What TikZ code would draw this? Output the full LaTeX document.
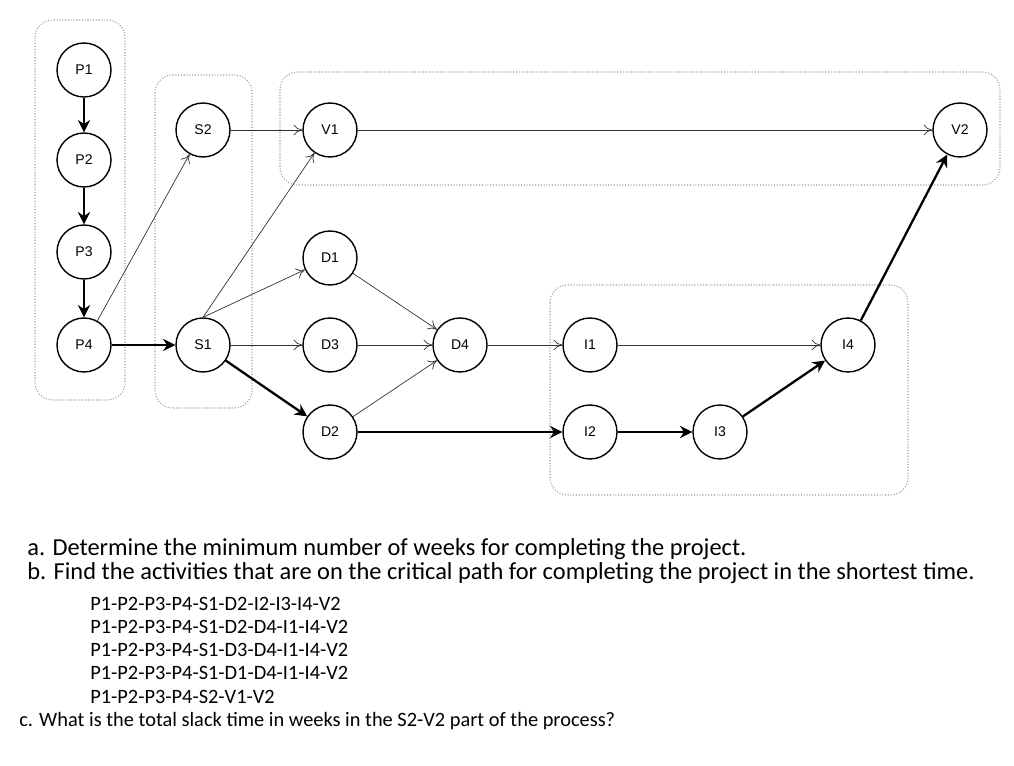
\documentclass[tikz,border=0pt]{standalone}
\usepackage{fontspec}
\setmainfont{Carlito}
\newfontfamily\nodefont{Liberation Sans}
\usetikzlibrary{arrows.meta}
\definecolor{GroupGray}{rgb}{0.6,0.6,0.6}

\begin{document}
\begin{tikzpicture}[x=0.02cm,y=-0.02cm,
    act/.style={draw,circle,minimum size=1.08cm,inner sep=0pt,font=\nodefont\fontsize{8}{9}\selectfont,line width=0.8pt},
    thin/.style={-{To[length=5pt,width=6pt]},line width=0.4pt,gray!40!black},
    crit/.style={-{Stealth[length=7pt,width=7pt]},line width=1.3pt},
    group/.style={draw=GroupGray,densely dotted,rounded corners=10pt,line width=0.6pt},
    txt/.style={anchor=west,font=\fontsize{11.6}{13}\selectfont,inner sep=0pt},
    bigtxt/.style={txt,font=\fontsize{13.9}{15}\selectfont}]
    %%Background
    \useasboundingbox (0,0) rectangle (1014,766);
    %%Groups
    \draw[group] (35,20) rectangle (125,400);
    \draw[group] (155,75) rectangle (252,408);
    \draw[group] (280,72) rectangle (1000,185);
    \draw[group] (550,285) rectangle (908,495);
    %%Activities
    \node[act] (p1) at (84,70) {P1};
    \node[act] (p2) at (84,160) {P2};
    \node[act] (p3) at (84,252) {P3};
    \node[act] (p4) at (84,345) {P4};
    \node[act] (s2) at (203,130) {S2};
    \node[act] (s1) at (203,345) {S1};
    \node[act] (v1) at (330,130) {V1};
    \node[act] (d1) at (330,258) {D1};
    \node[act] (d3) at (330,345) {D3};
    \node[act] (d2) at (330,432) {D2};
    \node[act] (d4) at (460,345) {D4};
    \node[act] (i1) at (590,345) {I1};
    \node[act] (i2) at (590,432) {I2};
    \node[act] (i3) at (720,432) {I3};
    \node[act] (i4) at (848,345) {I4};
    \node[act] (v2) at (960,130) {V2};
    %%Critical path
    \draw[crit] (p1) -- (p2);
    \draw[crit] (p2) -- (p3);
    \draw[crit] (p3) -- (p4);
    \draw[crit] (p4) -- (s1);
    \draw[crit] (s1) -- (d2);
    \draw[crit] (d2) -- (i2);
    \draw[crit] (i2) -- (i3);
    \draw[crit] (i3) -- (i4);
    \draw[crit] (i4) -- (v2);
    %%Other links
    \draw[thin] (p4) -- (s2);
    \draw[thin] (s2) -- (v1);
    \draw[thin] (v1) -- (v2);
    \draw[thin] (s1.north) -- (v1);
    \draw[thin] (s1.north) -- (d1);
    \draw[thin] (s1) -- (d3);
    \draw[thin] (d1) -- (d4);
    \draw[thin] (d3) -- (d4);
    \draw[thin] (d2) -- (d4);
    \draw[thin] (d4) -- (i1);
    \draw[thin] (i1) -- (i4);
    %%Questions
    \node[bigtxt] (qa) at (27,549) {a. Determine the minimum number of weeks for completing the project.};
    \node[bigtxt] (qb) at (27,573) {b. Find the activities that are on the critical path for completing the project in the shortest time.};
    \node[txt] (o1) at (90,604) {P1-P2-P3-P4-S1-D2-I2-I3-I4-V2};
    \node[txt] (o2) at (90,627) {P1-P2-P3-P4-S1-D2-D4-I1-I4-V2};
    \node[txt] (o3) at (90,650) {P1-P2-P3-P4-S1-D3-D4-I1-I4-V2};
    \node[txt] (o4) at (90,673) {P1-P2-P3-P4-S1-D1-D4-I1-I4-V2};
    \node[txt] (o5) at (90,697) {P1-P2-P3-P4-S2-V1-V2};
    \node[txt] (qc) at (19,721) {c. What is the total slack time in weeks in the S2-V2 part of the process?};
\end{tikzpicture}
\end{document}
